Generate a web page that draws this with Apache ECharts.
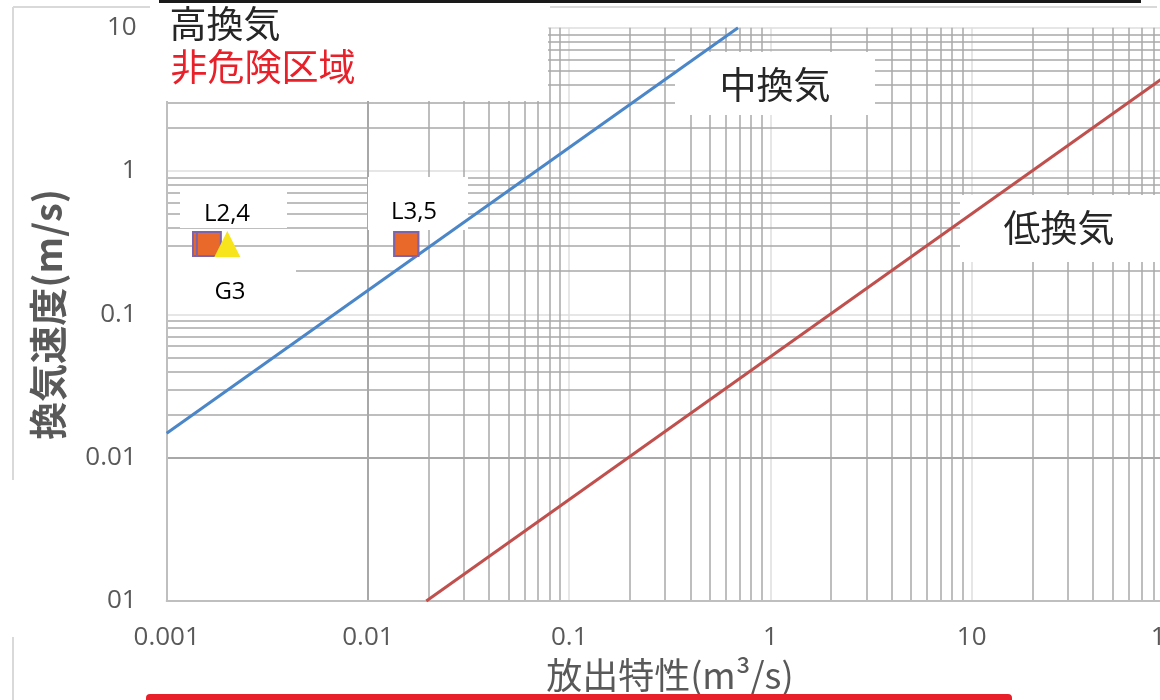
<!DOCTYPE html>
<html>
<head>
<meta charset="utf-8">
<script src="https://cdn.jsdelivr.net/npm/echarts@6/dist/echarts.min.js"></script>
<style>
  html, body { margin: 0; padding: 0; background: #ffffff; }
  #chart { width: 1160px; height: 700px; }
</style>
</head>
<body>
<div id="chart"></div>
<script>
// Axis ticks (log scale, one per decade)
const xTickValues = [0.001, 0.01, 0.1, 1, 10, 100];
const xTickLabels = ['0.001', '0.01', '0.1', '1', '10', '100'];
const yTickValues = [0.001, 0.01, 0.1, 1, 10];
const yTickLabels = ['01', '0.01', '0.1', '1', '10'];

// Boundary lines: [release characteristic (m3/s), ventilation velocity (m/s)]
const mediumVentBoundary = [[0.001, 0.0148], [0.69, 10]];
const lowVentBoundary = [[0.0195, 0.001], [100, 5]];

// Release points
const liquidReleases = [
  ['L2', 0.00155, 0.31],
  ['L4', 0.00162, 0.31],
  ['L3', 0.0155, 0.31],
  ['L5', 0.0155, 0.31]
];
const gasReleases = [
  ['G3', 0.002, 0.31]
];

// Minor log grid: 2..9 inside every decade
const minorSteps = [2, 3, 4, 5, 6, 7, 8, 9];
function minorValues(decades) {
  const out = [];
  decades.forEach(d => minorSteps.forEach(s => out.push(+(d * s).toPrecision(6))));
  return out;
}
const xMinor = minorValues(xTickValues.slice(0, -1));
const yMinor = minorValues(yTickValues.slice(0, -1));

function tickLabel(values, labels) {
  return function (v) {
    for (let i = 0; i < values.length; i++) {
      if (Math.abs(Math.log10(v) - Math.log10(values[i])) < 1e-6) return labels[i];
    }
    return '';
  };
}

const NUM_FONT = "'Open Sans', 'Noto Sans CJK JP', sans-serif";
const CJK_FONT = "'Noto Sans CJK JP', 'Noto Sans', sans-serif";
const AXIS_GREY = '#bfbfbf';
const MINOR_GREY = '#a9a9a9';
const MAJOR_GREY = '#dedede';

// white annotation panels lying over the grid
function panel(x, y, w, h) {
  return { type: 'rect', z: 1, silent: true, shape: { x: x, y: y, width: w, height: h }, style: { fill: '#ffffff' } };
}
function caption(text, cx, cy, size, color) {
  return {
    type: 'text', z: 3, silent: true, x: cx, y: cy,
    style: { text: text, fill: color, font: size + 'px ' + CJK_FONT, align: 'center', verticalAlign: 'middle' }
  };
}
function pointCaption(text, cx, cy) {
  return {
    type: 'text', z: 3, silent: true, x: cx, y: cy,
    style: { text: text, fill: '#000000', font: '24px ' + NUM_FONT, align: 'center', verticalAlign: 'middle' }
  };
}

const chart = echarts.init(document.getElementById('chart'), null, { renderer: 'canvas' });

chart.setOption({
  animation: false,
  backgroundColor: '#ffffff',
  grid: { left: 166.7, right: -13, top: 27.7, bottom: 99, containLabel: false, outerBoundsMode: 'none' },
  xAxis: {
    type: 'log', logBase: 10, min: 0.001, max: 100,
    name: '放出特性(m³/s)', nameLocation: 'middle', nameGap: 56,
    nameTextStyle: { fontSize: 36, color: '#595959', fontFamily: CJK_FONT },
    axisLine: { show: true, lineStyle: { color: AXIS_GREY, width: 2 } },
    axisTick: { show: false },
    axisLabel: { formatter: tickLabel(xTickValues, xTickLabels), fontSize: 26, color: '#595959', fontFamily: NUM_FONT, margin: 24 },
    splitLine: { show: true, lineStyle: { color: MAJOR_GREY, width: 1.5 } }
  },
  yAxis: {
    type: 'log', logBase: 10, min: 0.001, max: 10,
    name: '換気速度(m/s)', nameLocation: 'middle', nameGap: 100, nameRotate: 90,
    nameTextStyle: { fontSize: 38, fontWeight: 'bold', color: '#595959', fontFamily: CJK_FONT },
    axisLine: { show: true, lineStyle: { color: AXIS_GREY, width: 2 } },
    axisTick: { show: false },
    axisLabel: { formatter: tickLabel(yTickValues, yTickLabels), fontSize: 26, color: '#595959', fontFamily: NUM_FONT, margin: 30 },
    splitLine: { show: true, lineStyle: { color: MAJOR_GREY, width: 1.5 } }
  },
  series: [
    {
      // minor gridlines of the log-log paper
      type: 'line', data: [], z: 0, silent: true,
      markLine: {
        z: 0, silent: true, symbol: 'none', animation: false,
        label: { show: false },
        lineStyle: { color: MINOR_GREY, width: 1.5, type: 'solid' },
        emphasis: { disabled: true },
        data: xMinor.map(v => ({ xAxis: v })).concat(yMinor.map(v => ({ yAxis: v })))
      }
    },
    {
      name: '中換気', type: 'line', z: 4, data: mediumVentBoundary,
      showSymbol: false, symbol: 'none',
      lineStyle: { color: '#4a86c8', width: 3 }
    },
    {
      name: '低換気', type: 'line', z: 4, data: lowVentBoundary,
      showSymbol: false, symbol: 'none',
      lineStyle: { color: '#c0504d', width: 3 }
    },
    {
      name: 'L', type: 'scatter', z: 5,
      data: liquidReleases.map(r => ({ name: r[0], value: [r[1], r[2]] })),
      symbol: 'rect', symbolSize: 24,
      itemStyle: { color: '#e8692a', borderColor: '#7f63a8', borderWidth: 2, opacity: 1 }
    },
    {
      name: 'G', type: 'scatter', z: 6,
      data: gasReleases.map(r => ({ name: r[0], value: [r[1], r[2]] })),
      symbol: 'triangle', symbolSize: 26,
      itemStyle: { color: '#f7e41c', opacity: 1 }
    }
  ],
  graphic: [
    // outer frame pieces and page strokes
    { type: 'line', z: 2, silent: true, shape: { x1: 13, y1: 7, x2: 13, y2: 480 }, style: { stroke: '#d9d9d9', lineWidth: 2 } },
    { type: 'line', z: 2, silent: true, shape: { x1: 13, y1: 637, x2: 13, y2: 700 }, style: { stroke: '#d9d9d9', lineWidth: 2 } },
    { type: 'line', z: 2, silent: true, shape: { x1: 13, y1: 7, x2: 150, y2: 7 }, style: { stroke: '#d9d9d9', lineWidth: 2 } },
    { type: 'line', z: 2, silent: true, shape: { x1: 550, y1: 7, x2: 1157, y2: 7 }, style: { stroke: '#d9d9d9', lineWidth: 2 } },
    panel(150, 0, 398, 101),
    { type: 'rect', z: 2, silent: true, shape: { x: 159, y: 0, width: 982, height: 3 }, style: { fill: '#1a1a1a' } },
    { type: 'rect', z: 2, silent: true, shape: { x: 146, y: 694, width: 866, height: 12, r: 4 }, style: { fill: '#e8202a' } },

    // zone captions
    caption('高換気', 225, 24, 37, '#262626'),
    caption('非危険区域', 263, 67, 37, '#e8202a'),
    panel(675, 52, 200, 63),
    caption('中換気', 775, 85, 37, '#262626'),
    panel(960, 195, 200, 67),
    caption('低換気', 1059, 228, 37, '#262626'),

    // release point captions
    panel(180, 186, 107, 42),
    pointCaption('L2,4', 227, 214),
    panel(368, 177, 100, 53),
    pointCaption('L3,5', 414, 212),
    panel(168, 268, 128, 43),
    pointCaption('G3', 230, 292)
  ]
});
</script>
</body>
</html>
